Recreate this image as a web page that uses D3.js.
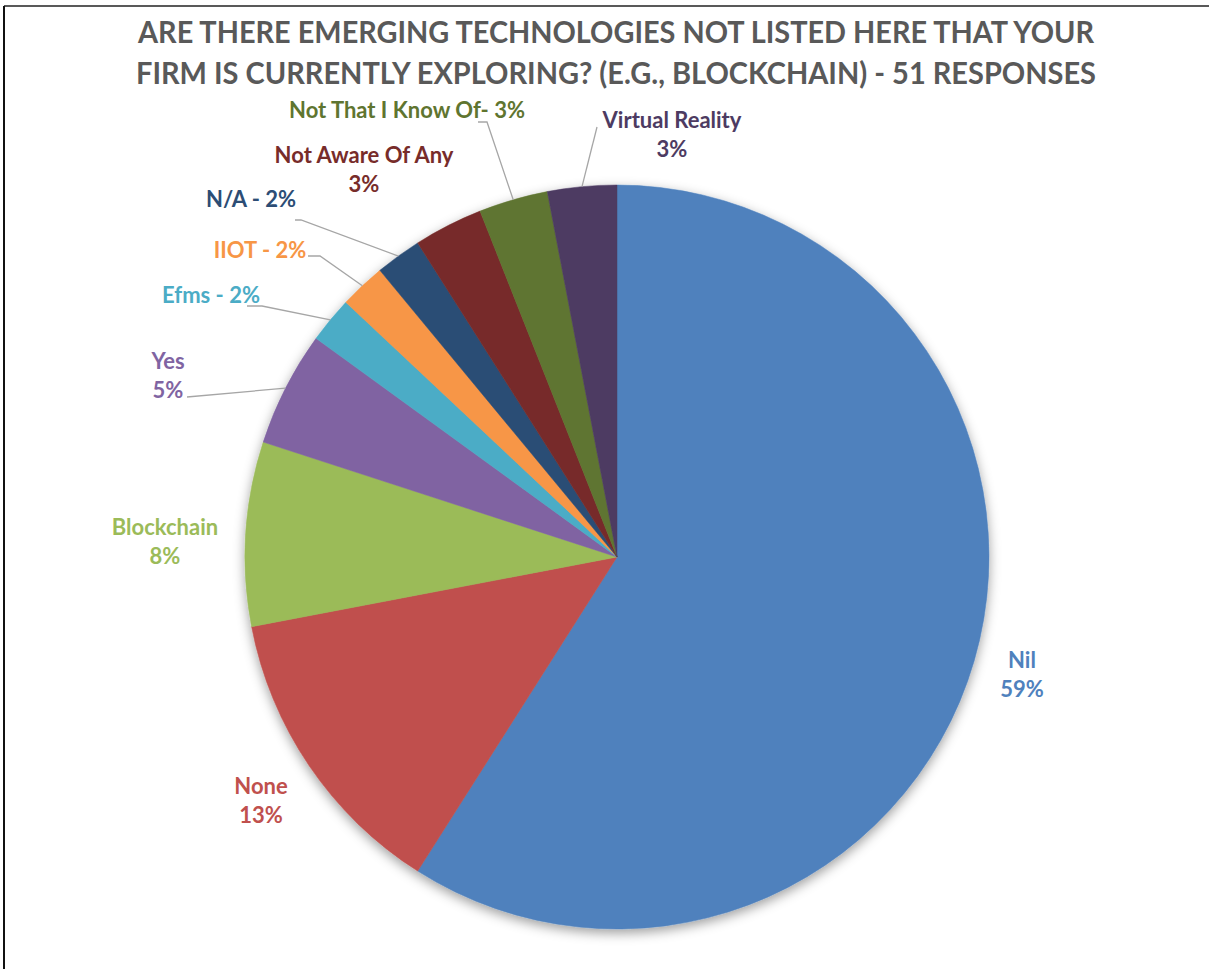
<!DOCTYPE html>
<html>
<head>
<meta charset="utf-8">
<script src="https://cdn.jsdelivr.net/npm/d3@7/dist/d3.min.js"></script>
<style>
  html, body { margin: 0; padding: 0; background: #fff; }
  svg { display: block; }
  text { font-family: Lato, "Open Sans", "Noto Sans", sans-serif; font-weight: 700; }
</style>
</head>
<body>
<svg id="chart" width="1209" height="969"></svg>
<script>
// Survey answers, clockwise from 12 o'clock
const categories = ["Nil", "None", "Blockchain", "Yes", "Efms", "IIOT", "N/A",
                    "Not Aware Of Any", "Not That I Know Of", "Virtual Reality"];
const shares = [59, 13, 8, 5, 2, 2, 2, 3, 3, 3];
const sliceColors = ["#4F81BD", "#C0504D", "#9BBB59", "#8064A2", "#4BACC6",
                     "#F79646", "#2C4D75", "#772C2A", "#5F7530", "#4D3B62"];
const titleLines = [
  "ARE THERE EMERGING TECHNOLOGIES NOT LISTED HERE THAT YOUR",
  "FIRM IS CURRENTLY EXPLORING? (E.G., BLOCKCHAIN) - 51 RESPONSES"
];

// Label placement: offset of the text block from the pie centre,
// text style, and optional leader line start (+ knee) offsets.
const labelLayout = [
  { dx: 405,  dy: 118,  style: "stack" },
  { dx: -356, dy: 244,  style: "stack" },
  { dx: -452, dy: -15,  style: "stack" },
  { dx: -449, dy: -181, style: "stack", leader: [[-430, -160]] },
  { dx: -406, dy: -262, style: "dash",  leader: [[-370, -251], [-355, -251]] },
  { dx: -357, dy: -307, style: "dash",  leader: [[-309, -301], [-297, -301]] },
  { dx: -366, dy: -358, style: "dash",  leader: [[-322, -337], [-316, -337]] },
  { dx: -253, dy: -387, style: "stack" },
  { dx: -210, dy: -447, style: "tight", leader: [[-139, -435], [-130, -435]] },
  { dx: 55,   dy: -422, style: "stack", leader: [[-20, -430]] }
];

const W = 1209, H = 969;
const cx = 617, cy = 557, R = 372;
const labelSize = 22, lineGap = 29;

const svg = d3.select("#chart");

// Frame edges
svg.append("rect").attr("x", 4).attr("y", 5).attr("width", W - 4).attr("height", 2).attr("fill", "#595959");
svg.append("rect").attr("x", 3).attr("y", 6).attr("width", 2).attr("height", H - 6).attr("fill", "#111");

// Soft shadow under the pie
const defs = svg.append("defs");
const f = defs.append("filter").attr("id", "pieShadow")
  .attr("x", "-10%").attr("y", "-10%").attr("width", "120%").attr("height", "125%");
f.append("feDropShadow").attr("dx", 0).attr("dy", 4).attr("stdDeviation", 6)
  .attr("flood-color", "#000").attr("flood-opacity", 0.38);

// Title
const title = svg.append("g").attr("fill", "#595959").attr("text-anchor", "middle");
const titleWidths = [956, 960];
titleLines.forEach((t, i) => {
  title.append("text")
    .attr("x", 616).attr("y", 43 + i * 41)
    .attr("font-size", 31)
    .attr("textLength", titleWidths[i]).attr("lengthAdjust", "spacingAndGlyphs")
    .text(t);
});

const data = categories.map((c, i) => ({ name: c, share: shares[i], color: sliceColors[i], layout: labelLayout[i] }));

const pie = d3.pie().sort(null).value(d => d.share).startAngle(0).endAngle(2 * Math.PI);
const arc = d3.arc().innerRadius(0).outerRadius(R);
const arcs = pie(data);

const g = svg.append("g").attr("transform", `translate(${cx},${cy})`);

g.append("g").attr("filter", "url(#pieShadow)")
  .selectAll("path").data(arcs).join("path")
  .attr("d", arc)
  .attr("fill", d => d.data.color)
  .attr("stroke", d => d.data.color)
  .attr("stroke-width", 0.5);

// Leader lines from the label to the slice rim at mid-angle
const rimPoint = d => {
  const a = (d.startAngle + d.endAngle) / 2;
  return [R * Math.sin(a), -R * Math.cos(a)];
};
g.append("g").selectAll("polyline")
  .data(arcs.filter(d => d.data.layout.leader)).join("polyline")
  .attr("points", d => d.data.layout.leader.concat([rimPoint(d)]).map(p => p.join(",")).join(" "))
  .attr("fill", "none")
  .attr("stroke", "#A6A6A6")
  .attr("stroke-width", 1.3);

// Data labels
const fmtPct = v => `${v}%`;
const labels = g.append("g").selectAll("text").data(arcs).join("text")
  .attr("text-anchor", "middle")
  .attr("font-size", labelSize)
  .attr("fill", d => d.data.color);

labels.each(function (d) {
  const L = d.data.layout;
  const t = d3.select(this);
  const capHalf = labelSize * 0.36;
  if (L.style === "stack") {
    t.append("tspan").attr("x", L.dx).attr("y", L.dy - lineGap / 2 + capHalf).text(d.data.name);
    t.append("tspan").attr("x", L.dx).attr("y", L.dy + lineGap / 2 + capHalf).text(fmtPct(d.data.share));
  } else {
    const sep = L.style === "tight" ? "- " : " - ";
    t.append("tspan").attr("x", L.dx).attr("y", L.dy + capHalf).text(d.data.name + sep + fmtPct(d.data.share));
  }
});
</script>
</body>
</html>
